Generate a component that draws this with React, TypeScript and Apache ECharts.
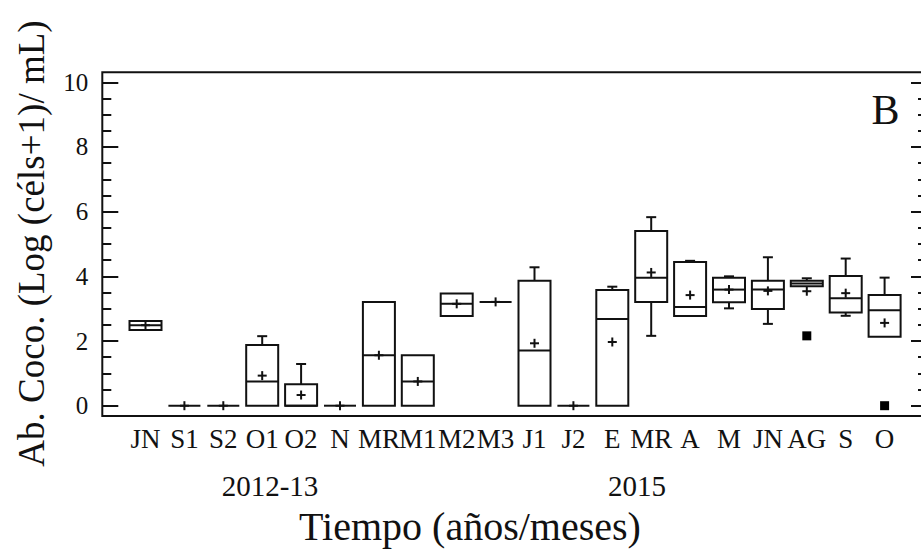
import React, { useEffect, useRef } from "react";
import * as echarts from "echarts";

// Sampling periods (2012-13 campaign followed by 2015)
const categories = ["JN", "S1", "S2", "O1", "O2", "N", "MR", "M1", "M2", "M3", "J1", "J2", "E", "MR", "A", "M", "JN", "AG", "S", "O"];

// Log(cells+1)/mL box statistics per period
const whiskerLow = [2.34, 0, 0, 0, 0, 0, 0, 0, 2.77, 3.21, 0, 0, 0, 2.16, 2.77, 3.01, 2.53, 3.69, 2.78, 2.13];
const quartile1 = [2.34, 0, 0, 0, 0, 0, 0, 0, 2.77, 3.21, 0, 0, 0, 3.21, 2.77, 3.2, 2.99, 3.69, 2.88, 2.13];
const medians = [2.49, 0, 0, 0.75, 0, 0, 1.56, 0.75, 3.15, 3.21, 1.71, 0, 2.68, 3.96, 3.05, 3.59, 3.59, 3.78, 3.32, 2.95];
const quartile3 = [2.62, 0, 0, 1.88, 0.66, 0, 3.21, 1.56, 3.47, 3.21, 3.86, 0, 3.58, 5.4, 4.44, 3.96, 3.86, 3.86, 4.01, 3.42];
const whiskerHigh = [2.62, 0, 0, 2.15, 1.29, 0, 3.21, 1.56, 3.47, 3.21, 4.28, 0, 3.68, 5.83, 4.48, 4.0, 4.59, 3.94, 4.55, 3.96];
const means = [2.49, 0, 0, 0.93, 0.33, 0, 1.56, 0.75, 3.15, 3.21, 1.93, 0, 1.97, 4.12, 3.42, 3.59, 3.55, 3.54, 3.48, 2.56];

// Outlying observations: [category index, value]
const outlierIndex = [17, 19];
const outlierValue = [2.16, 0];

const yTicks = [0, 2, 4, 6, 8, 10];

const groupLabels = ["2012-13", "2015"];

const FONT = '"Liberation Serif", "Times New Roman", serif';
const INK = "#111111";

export default function App() {
  const ref = useRef<HTMLDivElement>(null);

  useEffect(() => {
    if (!ref.current) return;
    const chart = echarts.init(ref.current, undefined, { renderer: "svg" });

    const boxData = categories.map((_, i) => [
      i,
      whiskerLow[i],
      quartile1[i],
      medians[i],
      quartile3[i],
      whiskerHigh[i],
      means[i],
    ]);

    const BOX_HALF = 16;
    const CAP_HALF = 5;
    const PLUS_HALF = 4.5;
    const lineStyle = { stroke: INK, lineWidth: 2 };

    const renderItem = (_params: any, api: any) => {
      const x = api.value(0);
      const lo = api.value(1);
      const q1 = api.value(2);
      const md = api.value(3);
      const q3 = api.value(4);
      const hi = api.value(5);
      const mn = api.value(6);
      const cx = api.coord([x, md])[0];
      const yLo = api.coord([x, lo])[1];
      const yQ1 = api.coord([x, q1])[1];
      const yMd = api.coord([x, md])[1];
      const yQ3 = api.coord([x, q3])[1];
      const yHi = api.coord([x, hi])[1];
      const yMn = api.coord([x, mn])[1];
      const children: any[] = [];
      const seg = (x1: number, y1: number, x2: number, y2: number) => ({
        type: "line",
        shape: { x1, y1, x2, y2 },
        style: lineStyle,
      });
      if (hi > q3 + 1e-6) {
        children.push(seg(cx, yQ3, cx, yHi));
        children.push(seg(cx - CAP_HALF, yHi, cx + CAP_HALF, yHi));
      }
      if (lo < q1 - 1e-6) {
        children.push(seg(cx, yQ1, cx, yLo));
        children.push(seg(cx - CAP_HALF, yLo, cx + CAP_HALF, yLo));
      }
      if (yQ1 - yQ3 > 0.5) {
        children.push({
          type: "rect",
          shape: { x: cx - BOX_HALF, y: yQ3, width: BOX_HALF * 2, height: yQ1 - yQ3 },
          style: { fill: "none", stroke: INK, lineWidth: 2 },
        });
      }
      children.push(seg(cx - BOX_HALF, yMd, cx + BOX_HALF, yMd));
      children.push(seg(cx - PLUS_HALF, yMn, cx + PLUS_HALF, yMn));
      children.push(seg(cx, yMn - PLUS_HALF, cx, yMn + PLUS_HALF));
      return { type: "group", children };
    };

    const gridLeft = 126.05;
    const gridRightEdge = 904.05;
    const frameLeft = 102.3;
    const frameRight = 927;
    const frameTop = 72.3;
    const frameBottom = 416;

    const yAxisCommon = {
      type: "value",
      min: 0,
      max: 10,
      interval: 2,
      axisLine: { show: false },
      splitLine: { show: false },
      axisTick: { show: true, inside: true, length: 16, lineStyle: { color: INK, width: 2 } },
      minorTick: { show: true, splitNumber: 4, length: 9, lineStyle: { color: INK, width: 2 } },
      minorSplitLine: { show: false },
    };

    chart.setOption({
      animation: false,
      grid: {
        left: gridLeft,
        right: 921 - gridRightEdge,
        top: 82.3,
        bottom: 557 - 405.7,
        containLabel: false,
        outerBoundsMode: "none",
      },
      xAxis: {
        type: "category",
        data: categories,
        boundaryGap: true,
        axisLine: { show: false },
        axisTick: { show: false },
        splitLine: { show: false },
        axisLabel: {
          interval: 0,
          margin: 20,
          color: INK,
          fontFamily: FONT,
          fontSize: 27,
          hideOverlap: false,
        },
      },
      yAxis: [
        {
          ...yAxisCommon,
          position: "left",
          offset: gridLeft - frameLeft,
          axisLabel: {
            show: true,
            margin: 14,
            color: INK,
            fontFamily: FONT,
            fontSize: 25,
            formatter: (v: number) => (yTicks.includes(v) ? String(v) : ""),
          },
        },
        {
          ...yAxisCommon,
          position: "right",
          offset: frameRight - gridRightEdge,
          axisLabel: { show: false },
        },
      ],
      graphic: [
        {
          type: "rect",
          silent: true,
          z: 0,
          shape: {
            x: frameLeft,
            y: frameTop,
            width: frameRight - frameLeft,
            height: frameBottom - frameTop,
          },
          style: { fill: "none", stroke: INK, lineWidth: 2 },
        },
        {
          type: "text",
          x: 270,
          y: 486,
          style: { text: groupLabels[0], fill: INK, font: `29px ${FONT}`, textAlign: "center", textVerticalAlign: "middle" },
        },
        {
          type: "text",
          x: 637,
          y: 486,
          style: { text: groupLabels[1], fill: INK, font: `29px ${FONT}`, textAlign: "center", textVerticalAlign: "middle" },
        },
        {
          type: "text",
          x: 470,
          y: 526.5,
          style: { text: "Tiempo (años/meses)", fill: INK, font: `40px ${FONT}`, textAlign: "center", textVerticalAlign: "middle" },
        },
        {
          type: "text",
          x: 31.5,
          y: 243.5,
          rotation: Math.PI / 2,
          style: {
            text: "Ab. Coco. (Log (céls+1)/ mL)",
            fill: INK,
            font: `37px ${FONT}`,
            textAlign: "center",
            textVerticalAlign: "middle",
          },
        },
        {
          type: "text",
          x: 885.5,
          y: 110,
          style: { text: "B", fill: INK, font: `42px ${FONT}`, textAlign: "center", textVerticalAlign: "middle" },
        },
      ],
      series: [
        {
          type: "custom",
          renderItem,
          data: boxData,
          encode: { x: 0, y: [1, 2, 3, 4, 5, 6] },
          clip: false,
          silent: true,
        },
        {
          type: "scatter",
          data: outlierIndex.map((idx, i) => [idx, outlierValue[i]]),
          symbol: "rect",
          symbolSize: 9,
          itemStyle: { color: "#000", opacity: 1 },
          silent: true,
        },
      ],
    });

    return () => {
      chart.dispose();
    };
  }, []);

  return (
    <div
      ref={ref}
      style={{ position: "absolute", left: 0, top: 0, width: 921, height: 557, background: "#fff" }}
    />
  );
}
